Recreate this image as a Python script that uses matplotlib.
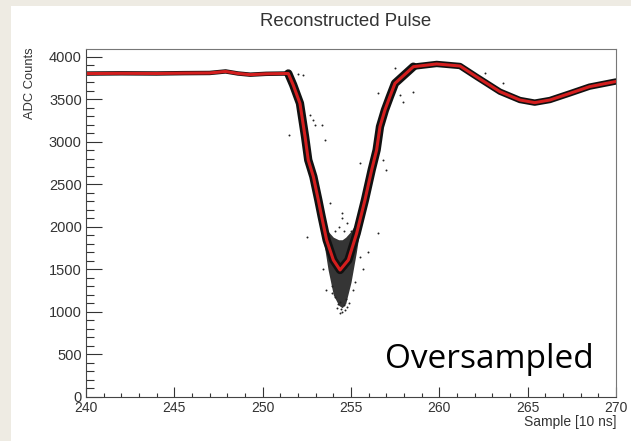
import numpy as np
import matplotlib
matplotlib.use("Agg")
import matplotlib.pyplot as plt
from matplotlib.patches import Rectangle
from matplotlib.ticker import MultipleLocator

# fitted pulse (red line)
fit_x = [240.0, 242.0, 244.0, 245.5, 247.0, 247.9, 248.6, 249.3, 250.2, 251.45,
         251.73, 252.11, 252.4, 252.58, 252.87, 253.15, 253.34, 253.62, 254.0,
         254.38, 254.85, 255.32, 255.79, 256.17, 256.45, 256.64, 256.92, 257.2,
         257.49, 258.53, 259.85, 261.17, 262.1, 263.43, 264.56, 265.4, 266.26,
         267.4, 268.5, 270.0]
fit_y = [3805, 3808, 3806, 3810, 3812, 3830, 3806, 3792, 3802, 3806,
         3670, 3455, 3062, 2788, 2592, 2318, 2121, 1847, 1612,
         1494, 1612, 1925, 2318, 2671, 2906, 3180, 3376, 3533,
         3690, 3886, 3918, 3894, 3768, 3592, 3494, 3463, 3494,
         3573, 3651, 3712]

# dense spread of samples in the pulse minimum
trough_x = [253.4, 253.7, 254.0, 254.3, 254.5, 254.7, 255.0, 255.3, 255.6]
trough_lo = [1900, 1500, 1200, 1080, 1050, 1100, 1350, 1700, 2100]
trough_hi = [2050, 1950, 1880, 1850, 1850, 1880, 1950, 2050, 2250]

# stray samples away from the band
stray_x = [252.0, 252.3, 252.68, 252.96, 253.36, 253.5, 251.5, 256.5, 252.85,
           253.8, 252.5, 256.5, 255.96, 255.5, 256.8, 257.0, 254.5, 253.6,
           254.8, 254.4, 257.8, 257.95, 258.5, 257.5, 261.7, 262.6, 263.6,
           254.2, 254.5, 254.6, 254.35, 254.7, 254.1, 254.9, 253.9, 255.2,
           254.6, 254.3, 254.8, 254.5, 254.1, 255.0, 253.8, 255.5, 253.4,
           255.7, 254.45, 254.65, 254.25, 253.95, 255.1]
stray_y = [3800, 3790, 3318, 3200, 3200, 3024, 3082, 3576, 3259,
           2282, 1882, 1929, 1706, 2753, 2788, 2670, 2165, 1259,
           1059, 988, 3553, 3470, 3588, 3870, 3824, 3812, 3694,
           1050, 1000, 1080, 1120, 1150, 1180, 1100, 1300, 1350,
           1950, 2000, 2050, 2100, 1950, 1950, 1600, 1650, 1500,
           1500, 1040, 1020, 1090, 1220, 1260]

plt.rcParams["font.family"] = ["Liberation Sans", "DejaVu Sans"]

fig = plt.figure(figsize=(6.31, 4.41), dpi=100)
fig.patch.set_facecolor("#eeebe3")
fig.add_artist(Rectangle((11 / 631, 0.0), 1.0, (441 - 6) / 441,
                         transform=fig.transFigure, facecolor="white",
                         edgecolor="none", zorder=0))

ax = fig.add_axes([86 / 631, 44 / 441, 530 / 631, 348 / 441])
ax.set_facecolor("white")

# black cloud of samples: wide along the pulse, thin on the baseline
ax.plot(fit_x, fit_y, color="#111111", lw=3.2, solid_joinstyle="round")
ax.plot(fit_x[9:30], fit_y[9:30], color="#111111", lw=6.0,
        solid_joinstyle="round", solid_capstyle="round")
ax.plot(fit_x[29:], fit_y[29:], color="#111111", lw=4.6,
        solid_joinstyle="round", solid_capstyle="round")
ax.fill_between(trough_x, trough_lo, trough_hi, color="#111111", alpha=0.85,
                lw=0)
ax.scatter(stray_x, stray_y, s=2.0, color="#222222", lw=0)
ax.plot(fit_x, fit_y, color="#d41e1e", lw=2.2)

ax.set_xlim(240, 270)
ax.set_ylim(0, 4094)
ax.xaxis.set_major_locator(MultipleLocator(5))
ax.xaxis.set_minor_locator(MultipleLocator(1))
ax.yaxis.set_major_locator(MultipleLocator(500))
ax.yaxis.set_minor_locator(MultipleLocator(100))

ax.tick_params(axis="both", which="both", direction="in", colors="#333333",
               width=0.8, labelsize=10, pad=3, top=False, right=False)
ax.tick_params(axis="y", which="major", length=11.5, labelsize=10.5)
ax.tick_params(axis="y", which="minor", length=6)
ax.tick_params(axis="x", which="major", length=7)
ax.tick_params(axis="x", which="minor", length=3)

for side in ["left", "bottom"]:
    ax.spines[side].set_color("#444444")
    ax.spines[side].set_linewidth(0.8)
for side in ["top", "right"]:
    ax.spines[side].set_color("#777777")
    ax.spines[side].set_linewidth(0.8)

fig.text(346 / 631, 1 - 21 / 441, "Reconstructed Pulse", ha="center",
         va="center", fontsize=13.4, color="#333333")
fig.text(30 / 631, 1 - 47 / 441, "ADC Counts", rotation=90, ha="center",
         va="top", fontsize=9.3, color="#333333")
fig.text(616 / 631, 1 - 422 / 441, "Sample [10 ns]", ha="right",
         va="center", fontsize=10, color="#333333")
fig.text(385 / 631, 1 - 368 / 441, "Oversampled", ha="left",
         va="baseline", fontsize=24, family=["Open Sans", "DejaVu Sans"],
         color="black")

fig.savefig("out.png", dpi=100)
